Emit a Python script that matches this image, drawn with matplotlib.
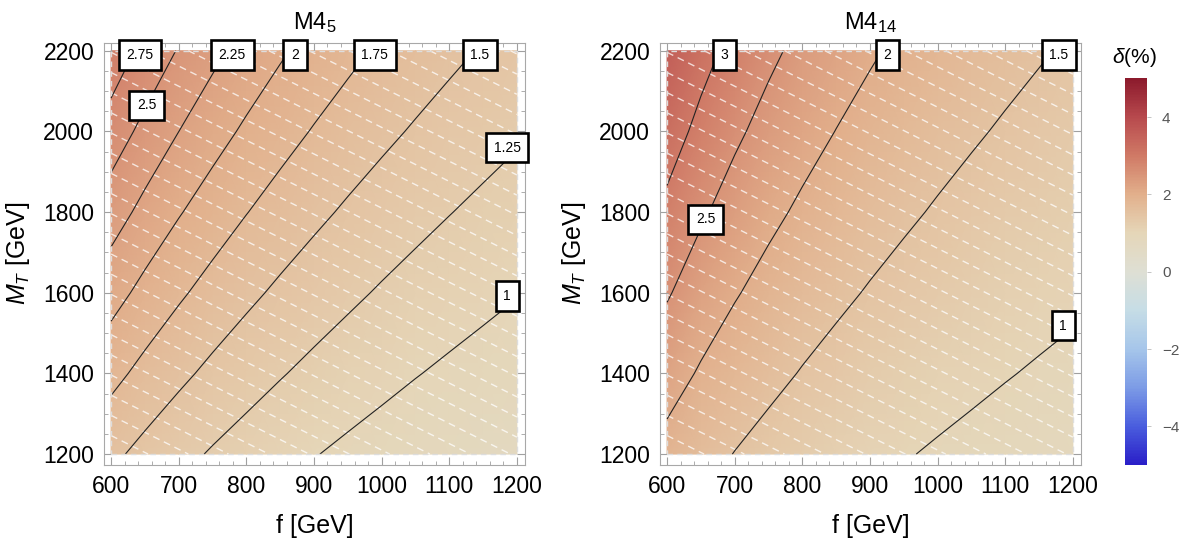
import numpy as np
import matplotlib
matplotlib.use('Agg')
import matplotlib.pyplot as plt
from matplotlib.colors import LinearSegmentedColormap, Normalize
from matplotlib.cm import ScalarMappable

plt.rcParams['font.family'] = ['Liberation Sans', 'DejaVu Sans']
plt.rcParams['mathtext.fontset'] = 'custom'
plt.rcParams['mathtext.rm'] = 'Liberation Sans'
plt.rcParams['mathtext.it'] = 'Liberation Sans:italic'

# grid of the scan
f_vals = [600, 650, 700, 750, 800, 850, 900, 950, 1000, 1050, 1100, 1150, 1200]
mt_vals = [1200, 1400, 1600, 1800, 2000, 2200]

# delta (%), rows = M_T, columns = f
delta_m4_5 = [
    [1.553, 1.428, 1.320, 1.227, 1.146, 1.074, 1.010, 0.953, 0.902, 0.855, 0.813, 0.774, 0.739],
    [1.824, 1.678, 1.553, 1.444, 1.350, 1.266, 1.191, 1.125, 1.065, 1.010, 0.961, 0.916, 0.875],
    [2.096, 1.929, 1.786, 1.662, 1.553, 1.457, 1.372, 1.296, 1.227, 1.165, 1.109, 1.058, 1.010],
    [2.367, 2.179, 2.018, 1.879, 1.757, 1.649, 1.553, 1.467, 1.390, 1.320, 1.257, 1.199, 1.146],
    [2.638, 2.430, 2.251, 2.096, 1.960, 1.840, 1.734, 1.639, 1.553, 1.476, 1.405, 1.341, 1.282],
    [2.910, 2.680, 2.483, 2.313, 2.164, 2.032, 1.915, 1.810, 1.716, 1.631, 1.553, 1.482, 1.417],
]
delta_m4_14 = [
    [1.850, 1.648, 1.489, 1.360, 1.253, 1.164, 1.087, 1.021, 0.964, 0.914, 0.869, 0.829, 0.793],
    [2.195, 1.953, 1.762, 1.607, 1.478, 1.371, 1.279, 1.200, 1.131, 1.071, 1.017, 0.969, 0.926],
    [2.541, 2.258, 2.034, 1.853, 1.704, 1.578, 1.471, 1.379, 1.299, 1.228, 1.165, 1.109, 1.059],
    [2.886, 2.562, 2.307, 2.100, 1.929, 1.786, 1.663, 1.558, 1.466, 1.385, 1.313, 1.250, 1.192],
    [3.231, 2.867, 2.580, 2.347, 2.155, 1.993, 1.855, 1.736, 1.633, 1.542, 1.461, 1.390, 1.325],
    [3.577, 3.172, 2.852, 2.594, 2.380, 2.200, 2.047, 1.915, 1.800, 1.699, 1.610, 1.530, 1.458],
]

levels_m4_5 = [1.0, 1.25, 1.5, 1.75, 2.0, 2.25, 2.5, 2.75]
levels_m4_14 = [1.0, 1.5, 2.0, 2.5, 3.0]

# where along each line the label sits (1 = top/right end)
label_pos_m4_5 = {2.5: 0.55}
label_pos_m4_14 = {2.5: 0.33}

# white dashed guide lines
mesh_slope = 0.84
mesh_step = 50

cmap = LinearSegmentedColormap.from_list('thermo', [
    '#2a1fc8', '#4a5ede', '#7d9ce6', '#a6c6ea', '#c6dde6', '#dedfd4',
    '#e5d6b8', '#e2b08c', '#d07a66', '#b84a4e', '#8c1a2c'])
norm = Normalize(-5, 5)

fig = plt.figure(figsize=(11.84, 5.46), dpi=100)
ax1 = fig.add_axes([0.0878, 0.1484, 0.3556, 0.7735])
ax2 = fig.add_axes([0.5574, 0.1484, 0.3556, 0.7735])
cax = fig.add_axes([0.9502, 0.1484, 0.0183, 0.708])

F, M = np.meshgrid(f_vals, mt_vals)


def draw_panel(ax, z, levels, label_pos, title):
    z = np.array(z)
    ax.pcolormesh(F, M, z, cmap=cmap, norm=norm, shading='gouraud')

    mesh = M + mesh_slope * F
    mesh_lev = np.arange(np.floor(mesh.min() / mesh_step) * mesh_step,
                         mesh.max() + mesh_step, mesh_step)
    ax.contour(F, M, mesh, levels=mesh_lev, colors='white', linewidths=1.0,
               linestyles=[(0, (5, 3.5))], alpha=0.75)

    cs = ax.contour(F, M, z, levels=levels, colors='#222222', linewidths=0.8)

    # border of the plotted region
    fx = [min(f_vals), max(f_vals), max(f_vals), min(f_vals), min(f_vals)]
    my = [min(mt_vals), min(mt_vals), max(mt_vals), max(mt_vals), min(mt_vals)]
    ax.plot(fx, my, color='#dddddd', lw=1.0, ls=(0, (4, 3)))

    for lev, path in zip(cs.levels, cs.get_paths()):
        for seg in path.to_polygons(closed_only=False):
            if len(seg) < 2:
                continue
            if seg[0, 1] > seg[-1, 1]:
                seg = seg[::-1]
            d = np.r_[0, np.cumsum(np.hypot(np.diff(seg[:, 0]) / 600.0,
                                            np.diff(seg[:, 1]) / 1000.0))]
            t = label_pos.get(lev, 1.0)
            x = np.interp(t * d[-1], d, seg[:, 0])
            y = np.interp(t * d[-1], d, seg[:, 1])
            if t < 1.0:
                off = (0, 0)
            elif x > max(f_vals) - 5:
                off = (-7, 2)
            else:
                off = (4, -3)
            ax.annotate('%g' % lev, (x, y), xytext=off, textcoords='offset points',
                        ha='center', va='center', fontsize=10, zorder=10,
                        annotation_clip=False,
                        bbox=dict(boxstyle='square,pad=0.55', fc='white',
                                  ec='black', lw=1.9))

    ax.set_xlim(589.5, 1212)
    ax.set_ylim(1173, 2220)
    ax.set_xticks(range(600, 1201, 100))
    ax.set_xticks(range(600, 1201, 20), minor=True)
    ax.set_yticks(range(1200, 2201, 200))
    ax.set_yticks(range(1200, 2201, 50), minor=True)
    ax.tick_params(which='both', direction='in', top=True, right=True,
                   color='#a0a0a0', labelsize=16.5, pad=7)
    ax.tick_params(which='major', length=6, width=0.8)
    ax.tick_params(which='minor', length=3, width=0.6)
    for sp in ax.spines.values():
        sp.set_color('#a8a8a8')
        sp.set_linewidth(0.8)
    ax.set_xlabel('f [GeV]', fontsize=18, labelpad=12)
    ax.set_ylabel('$M_T$ [GeV]', fontsize=18, labelpad=8)
    ax.set_title(title, fontsize=17, pad=10)


draw_panel(ax1, delta_m4_5, levels_m4_5, label_pos_m4_5, 'M4$_5$')
draw_panel(ax2, delta_m4_14, levels_m4_14, label_pos_m4_14, 'M4$_{14}$')

cb = fig.colorbar(ScalarMappable(norm=norm, cmap=cmap), cax=cax)
cb.outline.set_visible(False)
cb.set_ticks([-4, -2, 0, 2, 4])
cb.set_ticklabels(['\u22124', '\u22122', '0', '2', '4'])
cax.tick_params(labelsize=11, labelcolor='#555555', color='#bbbbbb',
                length=3, width=0.6, pad=8)
fig.text(0.9585, 0.895, '$\\delta$(%)', ha='center', va='center', fontsize=15)

fig.savefig('out.png', dpi=100)
